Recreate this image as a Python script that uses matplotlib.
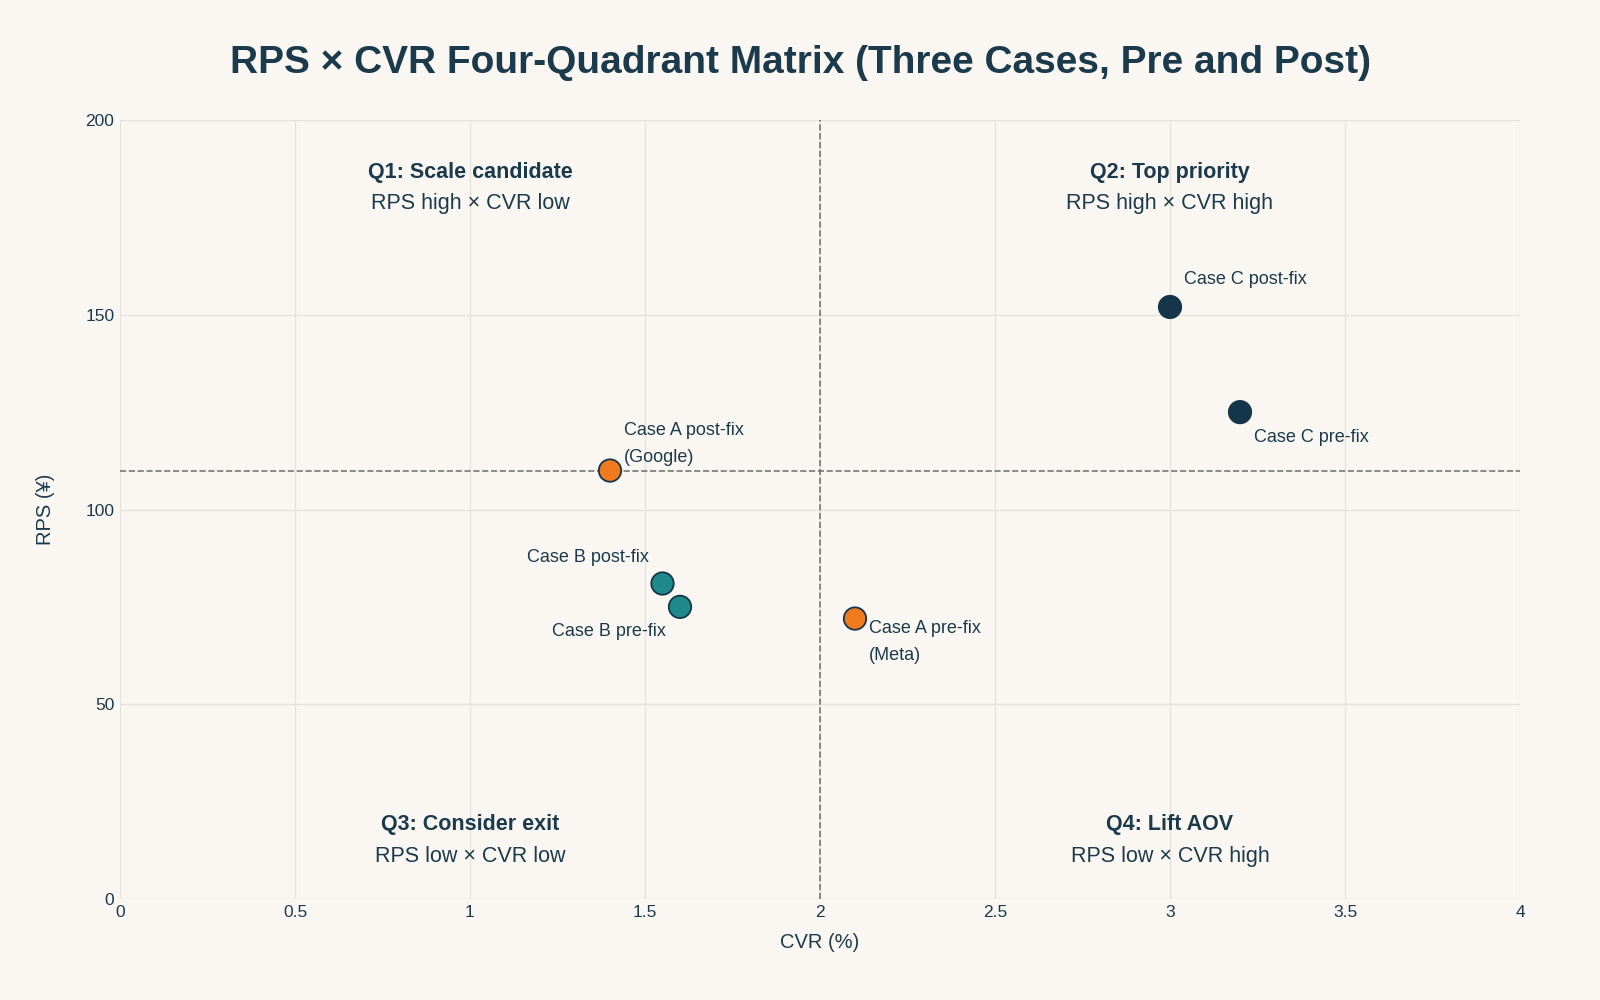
import matplotlib.pyplot as plt

# data
labels = ['Case A pre-fix\n(Meta)', 'Case A post-fix\n(Google)', 'Case B pre-fix', 'Case B post-fix',
          'Case C pre-fix', 'Case C post-fix']
cvr = [2.1, 1.4, 1.6, 1.55, 3.2, 3.0]
rps = [72, 110, 75, 81, 125, 152]
colors = ['#F07A1E', '#F07A1E', '#1E8A8A', '#1E8A8A', '#14354A', '#14354A']
offsets = [(10, -17), (10, 19), (-10, -18), (-10, 19), (10, -18), (10, 20)]
aligns = ['left', 'left', 'right', 'right', 'left', 'left']
quad_titles = ['Q1: Scale candidate', 'Q2: Top priority', 'Q3: Consider exit', 'Q4: Lift AOV']
quad_subs = ['RPS high × CVR low', 'RPS high × CVR high', 'RPS low × CVR low', 'RPS low × CVR high']
quad_pos = [(1.0, 182.5), (3.0, 182.5), (1.0, 15), (3.0, 15)]
x_split, y_split = 2.0, 110

bg = '#FAF7F2'
ink = '#1B3A4B'
plt.rcParams['font.family'] = ['Liberation Sans', 'DejaVu Sans']

fig = plt.figure(figsize=(16, 10), dpi=100, facecolor=bg)
ax = fig.add_axes([0.075, 0.101, 0.875, 0.779], facecolor=bg)

ax.axvline(x_split, color='#777777', ls='--', lw=1.2, zorder=1)
ax.axhline(y_split, color='#777777', ls='--', lw=1.2, zorder=1)

ax.scatter(cvr, rps, s=260, c=colors, edgecolors='#14354A', linewidths=1.3, zorder=3)
for x, y, lab, off, ha in zip(cvr, rps, labels, offsets, aligns):
    ax.annotate(lab, (x, y), xytext=off, textcoords='offset points', ha=ha, va='center',
                fontsize=13, color=ink, linespacing=1.75)

for (x, y), t, s in zip(quad_pos, quad_titles, quad_subs):
    ax.text(x, y + 4, t, ha='center', va='center', fontsize=15.5, fontweight='bold', color=ink)
    ax.text(x, y - 4, s, ha='center', va='center', fontsize=15.5, color=ink)

ax.set_xlim(0, 4)
ax.set_ylim(0, 200)
ax.set_xticks([0, 0.5, 1, 1.5, 2, 2.5, 3, 3.5, 4])
ax.set_xticklabels(['0', '0.5', '1', '1.5', '2', '2.5', '3', '3.5', '4'])
ax.set_yticks([0, 50, 100, 150, 200])
ax.grid(True, color='#E6E2DD', lw=1, zorder=0)
ax.set_axisbelow(True)
for sp in ax.spines.values():
    sp.set_visible(False)
ax.tick_params(length=0, labelsize=12.5, colors=ink, pad=4)
ax.set_xlabel('CVR (%)', fontsize=14.5, color=ink, labelpad=10)
ax.set_ylabel('RPS (¥)', fontsize=14.5, color=ink, labelpad=22)

fig.suptitle('RPS × CVR Four-Quadrant Matrix (Three Cases, Pre and Post)', fontsize=28,
             fontweight='bold', color=ink, y=0.955)

fig.savefig('out.png', facecolor=bg)
